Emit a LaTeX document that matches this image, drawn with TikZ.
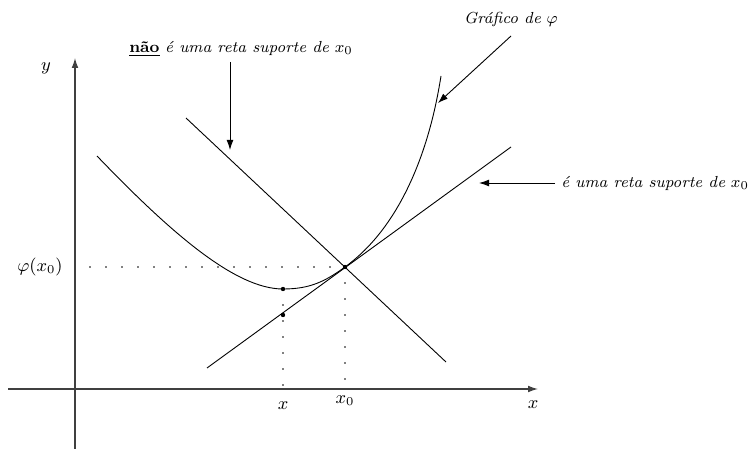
\documentclass[tikz,border=0pt]{standalone}
\usetikzlibrary{arrows.meta}
\tikzset{
  axis/.style={line width=0.6pt, black!75, -{Latex[length=5pt,width=3.4pt]}},
  thin line/.style={line width=0.45pt},
  pointer/.style={line width=0.45pt, -{Latex[length=5pt,width=3.4pt]}},
  dotline/.style={line width=0.9pt, line cap=round, dash pattern=on 0pt off 8pt},
  lbl/.style={inner sep=0pt, font=\small},
  note/.style={inner sep=0pt, font=\footnotesize},
  dotpt/.style={circle, fill, inner sep=0pt, minimum size=2.2pt}
}
\begin{document}
\begin{tikzpicture}[x=0.5pt,y=-0.5pt]
\useasboundingbox (0,0) rectangle (755,449);
% axes
\coordinate (xs) at (8,389);
\coordinate (xe) at (538,389);
\coordinate (ys) at (75,450);
\coordinate (ye) at (75,58);
\draw[axis] (xs) -- (xe);
\draw[axis] (ys) -- (ye);
\node[lbl] (ylab) at (46,68) {$y$};
\node[lbl] (xlab) at (533,405) {$x$};
% key points
\coordinate (P) at (345,267);
\coordinate (Px) at (345,389);
\coordinate (Qx) at (283,389);
\coordinate (phiy) at (90,267);
% lines
\coordinate (A) at (207,368);
\coordinate (B) at (511,147);
\coordinate (C) at (186,118);
\coordinate (D) at (446,362);
\draw[thin line] (A) -- (B);
\draw[thin line] (C) -- (D);
% curve
\coordinate (c0) at (97,156);
\coordinate (cm) at (283,289);
\coordinate (c1) at (441,76);
\draw[thin line] (c0) .. controls (170,232) and (235,289) .. (cm)
  .. controls (310,289) and (325,281.5) .. (P)
  .. controls (420,212.5) and (437,100) .. (c1);
% dotted guides
\draw[dotline] (phiy) -- (P);
\draw[dotline] (P) -- (Px);
\draw[dotline] (cm) -- (Qx);
% points
\node[dotpt] (Pd) at (P) {};
\node[dotpt] (Q) at (283,289) {};
\node[dotpt] (R) at (283,315) {};
% axis labels
\node[lbl, anchor=east] (phil) at (63,267) {$\varphi(x_0)$};
\node[lbl, anchor=base] (xl) at (283,409) {$x$};
\node[lbl, anchor=base] (x0l) at (345,403) {$x_0$};
% annotations
\node[note] (nao) at (241,49) {\underline{\textbf{não}} \textit{é uma reta suporte de} $x_0$};
\coordinate (naos) at (230,62);
\coordinate (naoe) at (230,150);
\draw[pointer] (naos) -- (naoe);
\node[note] (graf) at (511,20) {\textit{Gráfico de} $\varphi$};
\coordinate (grs) at (511,36);
\coordinate (gre) at (438,103);
\draw[pointer] (grs) -- (gre);
\node[note, anchor=west] (sup) at (561,183) {\textit{é uma reta suporte de} $x_0$};
\coordinate (sus) at (555,183);
\coordinate (sue) at (479,183);
\draw[pointer] (sus) -- (sue);
\end{tikzpicture}
\end{document}
